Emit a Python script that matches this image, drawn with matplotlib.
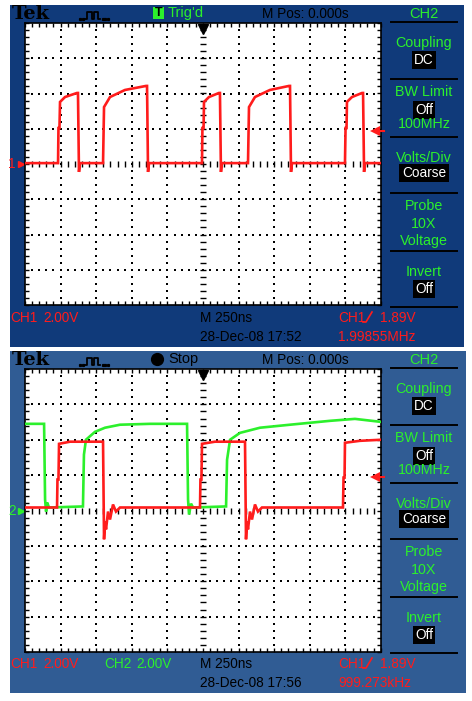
import numpy as np
import matplotlib
matplotlib.use('Agg')
from matplotlib import pyplot as plt
from matplotlib.patches import Rectangle

W, H = 472, 701

# 时基 250ns/div，10 格；电压 2V/div，8 格
time_per_div = 250
volt_per_div = 2.0
t_half = 5 * time_per_div
v_half = 4 * volt_per_div
trig_level = 1.89

# 上图 CH1 (ns, V)
top_ch1_t = [-1250, -1018, -1015, -1008, -1004, -969, -885, -878, -871, -864,
             -702, -695, -653, -548, -400, -393, -386, -379,
             -7, -4, 4, 7, 42, 112, 119, 126, 133,
             316, 323, 365, 470, 604, 611, 618, 625,
             997, 1001, 1008, 1011, 1046, 1117, 1124, 1131, 1138, 1250]
top_ch1_v = [0.05, 0.05, 2.04, 2.04, 3.52, 3.80, 4.03, 4.03, -0.45, 0.05,
             0.05, 3.23, 3.80, 4.20, 4.43, 4.43, -0.45, 0.05,
             0.05, 2.04, 2.04, 3.52, 3.80, 4.03, 4.03, -0.45, 0.05,
             0.05, 3.23, 3.80, 4.20, 4.43, 4.43, -0.45, 0.05,
             0.05, 2.04, 2.04, 3.52, 3.80, 4.03, 4.03, -0.45, 0.05, 0.05]

# 下图 CH1
bot_ch1_t = [-1250, -1025, -1022, -1015, -1011, -934, -702, -695, -688, -681, -667,
             -653, -632, -611, -583,
             -21, -18, -11, -7, 84, 295, 302, 309, 316, 330, 344, 365, 386, 414,
             983, 987, 994, 997, 1102, 1250]
bot_ch1_v = [0.17, 0.17, 1.75, 1.75, 3.77, 3.89, 3.89, -1.63, -0.62, -1.07, -0.06,
             -0.51, 0.34, -0.06, 0.17,
             0.17, 1.75, 1.75, 3.77, 3.89, 3.89, -1.63, -0.62, -1.07, -0.06, -0.51, 0.34, -0.06, 0.17,
             0.17, 1.86, 1.86, 3.83, 3.94, 4.00]

# 下图 CH2
bot_ch2_t = [-1250, -1116, -1109, -1102, -1095, -1081, -843, -836, -822, -758, -688,
             -583, -372, -112, -105, -98, -84, -70, 162, 169, 190, 260, 400, 611,
             892, 1067, 1250]
bot_ch2_v = [4.90, 4.90, 0.62, -0.06, 0.45, 0.17, 0.23, 3.16, 4.00, 4.45, 4.68,
             4.85, 4.90, 4.90, 0.62, -0.23, 0.39, 0.17, 0.23, 2.87, 4.00, 4.39, 4.68, 4.85,
             5.07, 5.18, 5.01]

# 右侧菜单（相对面板顶部的像素位置）
menu_items = [('Coupling', 37, False), ('DC', 55, True), ('BW Limit', 86, False),
              ('Off', 105, True), ('100MHz', 119, False), ('Volts/Div', 152, False),
              ('Coarse', 168, True), ('Probe', 200, False), ('10X', 218, False),
              ('Voltage', 235, False), ('Invert', 266, False), ('Off', 284, True)]
menu_lines = [17, 74, 132, 188, 246, 302]

RED = '#ff1c1c'
GREEN = '#2cf02c'
SCREEN_FONT = ['Liberation Sans Narrow', 'Liberation Sans', 'DejaVu Sans']
FS = 9.8

fig = plt.figure(figsize=(W / 100, H / 100), dpi=100)
bg = fig.add_axes([0, 0, 1, 1])
bg.set_xlim(0, W)
bg.set_ylim(H, 0)
bg.axis('off')


def px_axes(x0, y0, x1, y1):
    return fig.add_axes([x0 / W, 1 - y1 / H, (x1 - x0) / W, (y1 - y0) / H])


def txt(x, y, s, color='black', size=FS, ha='left', **kw):
    # y 为基线位置
    bg.text(x, y, s, color=color, fontsize=size, ha=ha, va='baseline',
            family=SCREEN_FONT, **kw)


def draw_graticule(ax):
    ax.set_facecolor('white')
    ax.set_xlim(-t_half, t_half)
    ax.set_ylim(-v_half, v_half)
    for s in ax.spines.values():
        s.set_color('black')
        s.set_linewidth(1.2)
    xs_major = np.arange(-t_half, t_half + 1, time_per_div)
    xs_minor = np.arange(-t_half, t_half + 1, time_per_div / 5)
    ys_major = np.arange(-v_half, v_half + 0.01, volt_per_div)
    ys_minor = np.arange(-v_half, v_half + 0.01, volt_per_div / 5)
    ax.set_xticks(xs_minor)
    ax.set_yticks(ys_minor)
    ax.tick_params(which='both', direction='in', length=3.2, width=1,
                   top=True, right=True, labelbottom=False, labelleft=False)
    # 点状网格
    gx, gy = np.meshgrid(xs_major[1:-1], ys_minor[1:-1])
    keep = gx != 0
    ax.scatter(gx[keep], gy[keep], s=1.6, marker='s', color='black', lw=0, zorder=1)
    gx, gy = np.meshgrid(xs_minor[1:-1], ys_major[1:-1])
    keep = gy != 0
    ax.scatter(gx[keep], gy[keep], s=1.6, marker='s', color='black', lw=0, zorder=1)
    # 中心十字刻度
    ax.scatter(xs_minor[1:-1], np.zeros(len(xs_minor) - 2), s=14, marker='|',
               color='black', lw=1, zorder=1)
    ax.scatter(np.zeros(len(ys_minor) - 2), ys_minor[1:-1], s=14, marker='_',
               color='black', lw=1, zorder=1)
    # 触发位置
    ax.plot(0, v_half - 0.35, marker='v', color='black', ms=6.5, clip_on=False, zorder=5)
    # 触发电平箭头
    ax.plot([t_half - 45, t_half + 18], [trig_level, trig_level], color=RED, lw=1.5,
            clip_on=False, zorder=6)
    ax.plot(t_half - 45, trig_level, marker='<', color=RED, ms=6.5, mew=0,
            clip_on=False, zorder=6)


def channel_marker(ax, label, color):
    ax.text(-0.036, 0, label, color=color, fontsize=FS, ha='center', va='center',
            transform=ax.get_yaxis_transform(), family=SCREEN_FONT)
    ax.plot(-0.012, 0, marker='>', color=color, ms=4, clip_on=False,
            transform=ax.get_yaxis_transform())


def draw_panel(y0, x1, panel_h, color, grat, status, date, freq, traces, markers, ch2_row):
    bg.add_patch(Rectangle((10, y0), x1 - 10, panel_h, facecolor=color, edgecolor='none'))
    # 标题栏
    bg.text(12, y0 + 14, 'Tek', fontsize=14, fontweight='bold', family='DejaVu Serif',
            va='baseline', ha='left', color='black')
    ix = [85, 87, 87, 92, 92, 94, 94, 98, 98, 100]
    iy = [14, 14, 7, 7, 14, 14, 7, 7, 14, 14]
    bg.plot(ix, [v + y0 for v in iy], color='black', lw=1.3)
    bg.plot([80, 82.5, 102.5, 105, 107.5], [y0 + 14] * 5, ls='none', marker='s',
            ms=1.3, color='black')
    if status == "Trig'd":
        bg.add_patch(Rectangle((153, y0 + 2), 11, 12, facecolor=GREEN, edgecolor='none'))
        bg.text(158.5, y0 + 8, 'T', fontsize=9, fontweight='bold', ha='center',
                va='center', color='black', family=SCREEN_FONT)
        txt(168, y0 + 12.5, "Trig'd", color=GREEN, size=10.5)
    else:
        bg.plot(157, y0 + 7.5, marker='o', ms=8.5, color='black')
        txt(168, y0 + 12.5, 'Stop', size=10.5)
    txt(305, y0 + 12.5, 'M Pos: 0.000s', ha='center')
    # 右侧菜单
    txt(424, y0 + 12.5, 'CH2', color=GREEN, ha='center', size=10.5)
    for ly in menu_lines:
        bg.plot([391, 457], [y0 + ly, y0 + ly], color='black', lw=1.4)
    for label, ly, boxed in menu_items:
        if boxed:
            bg.text(424, y0 + ly, label, color='white', fontsize=FS, ha='center',
                    va='center', family=SCREEN_FONT,
                    bbox=dict(boxstyle='square,pad=0.18', fc='black', ec='none'))
        else:
            txt(424, y0 + ly + 4.5, label, color=GREEN, ha='center', size=10.3)
    # 底部读数
    ry1, ry2 = y0 + 317, y0 + 336
    txt(10, ry1, 'CH1', color=RED)
    txt(43, ry1, '2.00V', color=RED)
    if ch2_row:
        txt(104, ry1, 'CH2', color=GREEN)
        txt(136, ry1, '2.00V', color=GREEN)
    txt(200, ry1, 'M 250ns')
    txt(200, ry2, date)
    txt(338, ry1, 'CH1', color=RED)
    bg.plot([363, 366, 372], [ry1, ry1, ry1 - 10], color=RED, lw=1.2)
    txt(380, ry1, '1.89V', color=RED)
    txt(338, ry2, freq, color=RED)

    ax = px_axes(*grat)
    draw_graticule(ax)
    for t, v, c in traces:
        ax.plot(t, v, color=c, lw=1.9, zorder=3, solid_joinstyle='miter')
    for label, c in markers:
        channel_marker(ax, label, c)


draw_panel(5, 464, 342, '#103a7a', (25, 23, 381, 305), "Trig'd", '28-Dec-08 17:52',
           '1.99855MHz', [(top_ch1_t, top_ch1_v, RED)], [('1', RED)], False)
draw_panel(351, 466, 342, '#305c94', (25, 369, 381, 652), 'Stop', '28-Dec-08 17:56',
           '999.273kHz', [(bot_ch2_t, bot_ch2_v, GREEN), (bot_ch1_t, bot_ch1_v, RED)],
           [('2', GREEN)], True)

fig.savefig('out.png', dpi=100)
